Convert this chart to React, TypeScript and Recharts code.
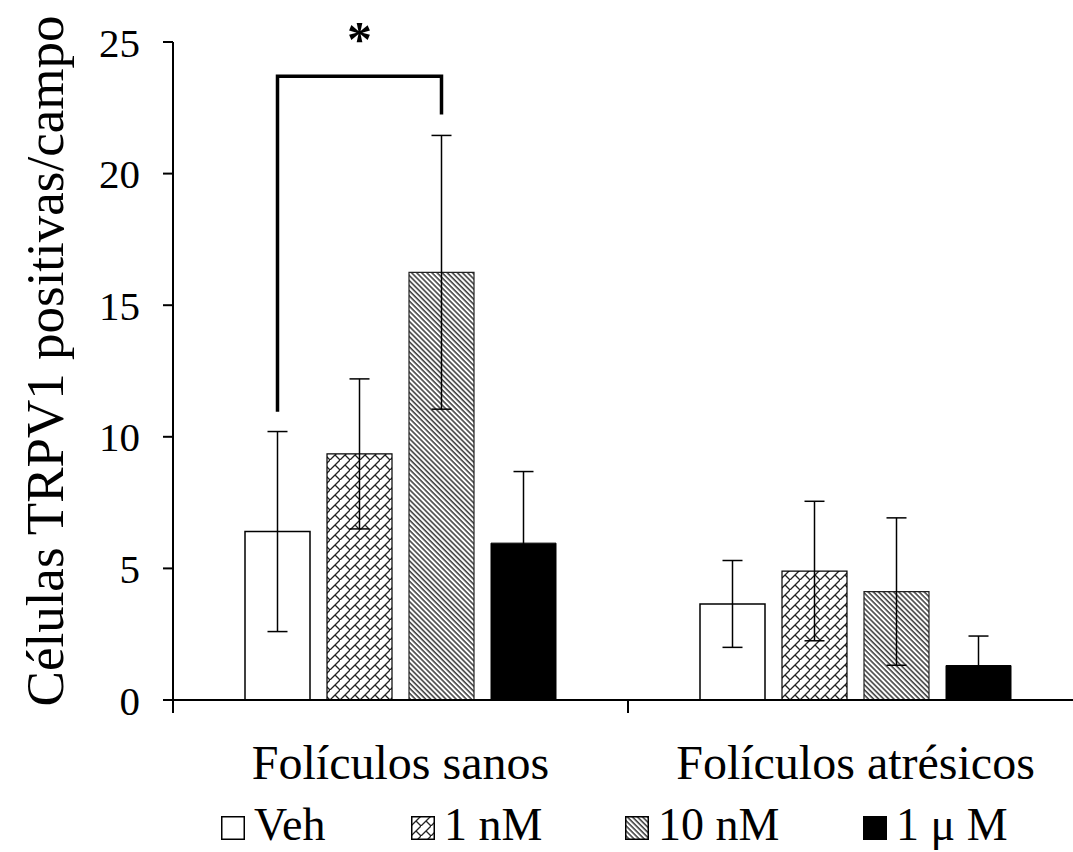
import React from 'react';
import { BarChart, Bar, XAxis, YAxis, ErrorBar, LabelList } from 'recharts';

const categories = ['Folículos sanos', 'Folículos atrésicos'];
const veh = [6.4, 3.65];
const vehErr = [3.8, 1.65];
const nm1 = [9.35, 4.9];
const nm1Err = [2.85, 2.65];
const nm10 = [16.25, 4.12];
const nm10Err = [5.2, 2.8];
const um1 = [5.96, 1.31];
const um1Err = [2.72, 1.12];
const yTicks = [0, 5, 10, 15, 20, 25];

// significance bracket (Veh vs 10 nM, healthy follicles), in data units
const bracketTop = 23.7;
const bracketLeftEnd = 10.95;
const bracketRightEnd = 22.25;

const data = categories.map((name, i) => ({
  name,
  veh: veh[i], vehErr: vehErr[i],
  nm1: nm1[i], nm1Err: nm1Err[i],
  nm10: nm10[i], nm10Err: nm10Err[i],
  um1: um1[i], um1Err: um1Err[i],
}));

const FONT = '"Liberation Serif", "Times New Roman", serif';
const BAR_SIZE = 65;
const BAR_GAP = 17;

const CategoryTick = (props: any) => {
  const { x, y, payload } = props;
  const half = payload && payload.offset ? payload.offset : 227.5;
  return (
    <g>
      <line x1={x - half} y1={y} x2={x - half} y2={y + 13} stroke="#000" strokeWidth={2} />
      <line x1={x + half} y1={y} x2={x + half} y2={y + 13} stroke="#000" strokeWidth={2} />
      <text x={x} y={y + 79} textAnchor="middle" fontFamily={FONT} fontSize={48} fill="#000">
        {payload.value}
      </text>
    </g>
  );
};

const Bracket = (props: any) => {
  const { x, y, width, height, value, index } = props;
  if (index !== 0 || !value) return null;
  const pxPerUnit = height / value;
  const base = y + height;
  const toY = (v: number) => base - v * pxPerUnit;
  const right = x + width / 2;
  const left = right - 2 * (BAR_SIZE + BAR_GAP);
  const top = toY(bracketTop);
  return (
    <g>
      <path
        d={`M${left},${toY(bracketLeftEnd)} L${left},${top} L${right},${top} L${right},${toY(bracketRightEnd)}`}
        fill="none"
        stroke="#000"
        strokeWidth={3.5}
      />
      <text x={(left + right) / 2} y={top - 20} textAnchor="middle" fontFamily={FONT} fontWeight="bold" fontSize={50} fill="#000">
        *
      </text>
    </g>
  );
};

const legendItems = [
  { label: 'Veh', fill: '#fff', w: 190 },
  { label: '1 nM', fill: 'url(#brick)', w: 214 },
  { label: '10 nM', fill: 'url(#stripes)', w: 238 },
  { label: '1 μ M', fill: '#000', w: 180 },
];

export default function App() {
  return (
    <div style={{ position: 'fixed', left: 0, top: 0, width: 1073, height: 852, overflow: 'hidden', background: '#fff' }}>
      <BarChart
        width={1090}
        height={852}
        data={data}
        margin={{ top: 42, right: 7, bottom: 90, left: 0 }}
        barGap={BAR_GAP}
        barSize={BAR_SIZE}
      >
        <defs>
          <pattern id="brick" width="10" height="10" patternUnits="userSpaceOnUse">
            <rect width="10" height="10" fill="#fff" />
            <path d="M0,10 L10,0 M5,5 L10,10" stroke="#222" strokeWidth={1.3} fill="none" />
          </pattern>
          <pattern id="stripes" width="3.6" height="10" patternUnits="userSpaceOnUse" patternTransform="rotate(-45)">
            <rect width="3.6" height="10" fill="#fff" />
            <line x1="1" y1="0" x2="1" y2="10" stroke="#444" strokeWidth={1.6} />
          </pattern>
        </defs>
        <XAxis
          dataKey="name"
          axisLine={{ stroke: '#000', strokeWidth: 2 }}
          tickLine={false}
          tickSize={0}
          tickMargin={0}
          height={62}
          tick={<CategoryTick />}
          interval={0}
        />
        <YAxis
          width={173}
          domain={[0, 25]}
          ticks={yTicks}
          interval={0}
          axisLine={{ stroke: '#000', strokeWidth: 2 }}
          tickLine={{ stroke: '#000', strokeWidth: 2 }}
          tickSize={10}
          tickMargin={23}
          tick={{ fill: '#000', fontSize: 41, fontFamily: FONT }}
          label={{
            content: (p: any) => {
              const vb = p.viewBox || { x: 0, y: 42, width: 173, height: 658 };
              const cx = vb.x + 45;
              const cy = vb.y + vb.height / 2 - 10;
              return (
                <text
                  x={cx}
                  y={cy}
                  transform={`rotate(-90, ${cx}, ${cy})`}
                  textAnchor="middle"
                  dominantBaseline="central"
                  fontFamily={FONT}
                  fontSize={53}
                  fill="#000"
                >
                  Células TRPV1 positivas/campo
                </text>
              );
            },
          }}
        />
        <Bar dataKey="veh" fill="#fff" stroke="#000" strokeWidth={1.5} isAnimationActive={false}>
          <ErrorBar dataKey="vehErr" width={10} stroke="#000" strokeWidth={1.5} direction="y" />
        </Bar>
        <Bar dataKey="nm1" fill="url(#brick)" stroke="#000" strokeWidth={1.2} isAnimationActive={false}>
          <ErrorBar dataKey="nm1Err" width={10} stroke="#000" strokeWidth={1.5} direction="y" />
        </Bar>
        <Bar dataKey="nm10" fill="url(#stripes)" stroke="#222" strokeWidth={1.2} isAnimationActive={false}>
          <ErrorBar dataKey="nm10Err" width={10} stroke="#000" strokeWidth={1.5} direction="y" />
          <LabelList dataKey="nm10" content={<Bracket />} />
        </Bar>
        <Bar dataKey="um1" fill="#000" stroke="#000" strokeWidth={1} isAnimationActive={false}>
          <ErrorBar dataKey="um1Err" width={10} stroke="#000" strokeWidth={1.5} direction="y" />
        </Bar>
      </BarChart>
      <div
        style={{
          position: 'absolute',
          left: 221,
          top: 798,
          display: 'flex',
          alignItems: 'center',
          fontFamily: FONT,
          fontSize: 46,
          lineHeight: 'normal',
          color: '#000',
          whiteSpace: 'nowrap',
        }}
      >
        {legendItems.map((it) => (
          <div key={it.label} style={{ display: 'flex', alignItems: 'center', width: it.w }}>
            <svg width={24} height={24} style={{ marginRight: 9, marginTop: 6, flexShrink: 0 }}>
              <rect x={0.75} y={0.75} width={22.5} height={22.5} fill={it.fill} stroke="#000" strokeWidth={1.5} />
            </svg>
            <span>{it.label}</span>
          </div>
        ))}
      </div>
    </div>
  );
}
